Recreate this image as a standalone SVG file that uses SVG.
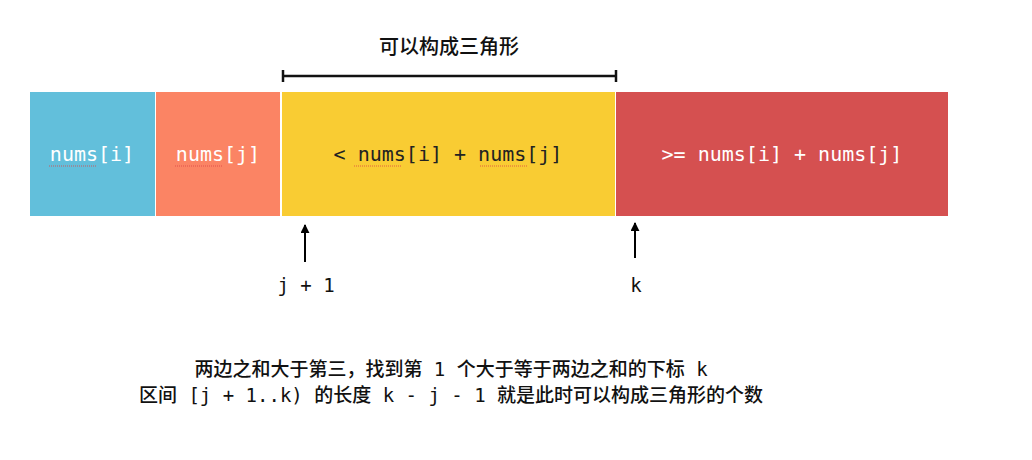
<svg xmlns="http://www.w3.org/2000/svg" width="1032" height="460" viewBox="0 0 1032 460">
<defs>
<marker id="ah" viewBox="0 0 10 10" refX="9" refY="5" markerWidth="4.5" markerHeight="4.5" orient="auto"><path d="M0,0 L10,5 L0,10 z" fill="#000"/></marker>
<style>
.mono{font-family:"DejaVu Sans Mono","Liberation Mono",monospace;font-size:20px;fill:#fff;text-anchor:middle}
.lbl{font-family:"DejaVu Sans Mono","Liberation Mono",monospace;font-size:19px;fill:#111;text-anchor:middle}
.cn{font-family:"DejaVu Sans Mono","Noto Sans CJK SC",sans-serif;font-size:19px;font-weight:500;fill:#111;text-anchor:middle}
.sq{stroke:#d44;stroke-width:1;stroke-dasharray:1 1;opacity:0.8}
.line{stroke:#000;stroke-width:2;fill:none}
.br{stroke:#111;stroke-width:2.5;fill:none}
</style>
</defs>
<rect width="1032" height="460" fill="#fff"/>
<g id="block-i"><rect x="30" y="92" width="125" height="124" fill="#62BFDB"/><text class="mono" x="92" y="161">nums[i]</text><line class="sq" x1="49" y1="166" x2="97" y2="166"/></g>
<g id="block-j"><rect x="156" y="92" width="124" height="124" fill="#FB8464"/><text class="mono" x="218" y="161">nums[j]</text><line class="sq" x1="175" y1="166" x2="223" y2="166"/></g>
<g id="block-mid"><rect x="282" y="92" width="333" height="124" fill="#F9CC33"/><text class="mono" x="448" y="161" style="fill:#222">&lt; nums[i] + nums[j]</text><line class="sq" x1="354" y1="166" x2="402" y2="166"/><line class="sq" x1="480" y1="166" x2="528" y2="166"/></g>
<g id="block-right"><rect x="616" y="92" width="332" height="124" fill="#D55050"/><text class="mono" x="782" y="161">&gt;= nums[i] + nums[j]</text></g>
<g id="bracket"><line class="br" x1="283" y1="76" x2="616" y2="76"/><line class="br" x1="283" y1="70" x2="283" y2="82"/><line class="br" x1="616" y1="70" x2="616" y2="82"/><text class="cn" x="449" y="54" style="font-size:20px">可以构成三角形</text></g>
<g id="connectors">
<line class="line" x1="305" y1="262" x2="305" y2="225" marker-end="url(#ah)"/>
<line class="line" x1="635" y1="258" x2="635" y2="223" marker-end="url(#ah)"/>
</g>
<g id="labels">
<text class="lbl" x="306" y="292">j + 1</text>
<text class="lbl" x="636" y="292">k</text>
</g>
<g id="note">
<text class="cn" x="451" y="376">两边之和大于第三，找到第 1 个大于等于两边之和的下标 k</text>
<text class="cn" x="451" y="402">区间 [j + 1..k) 的长度 k - j - 1 就是此时可以构成三角形的个数</text>
</g>
</svg>
